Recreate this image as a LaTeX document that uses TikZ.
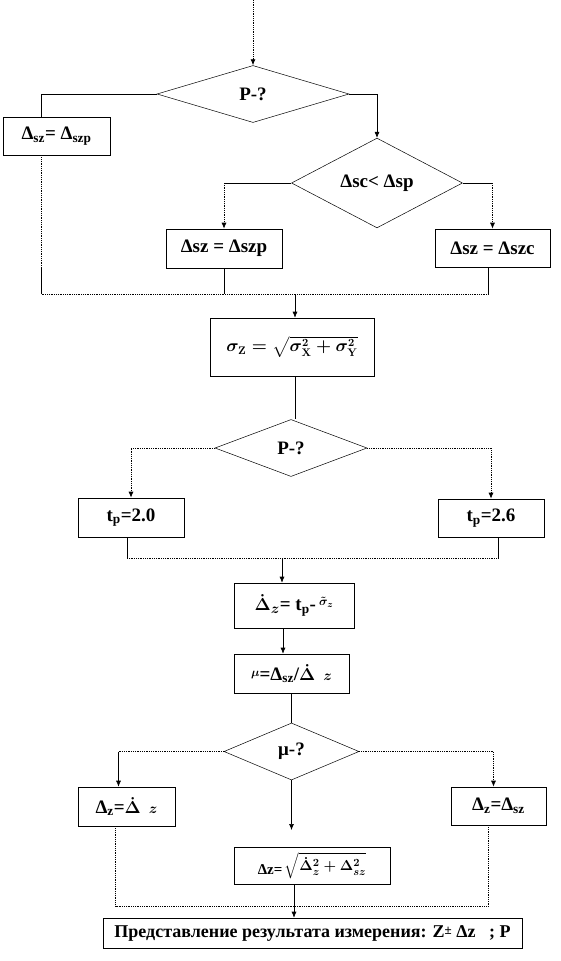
\documentclass[tikz,border=0pt]{standalone}
\usepackage{fontspec}
\usepackage{amsmath}
\setmainfont{Liberation Serif}
\usetikzlibrary{shapes.geometric,arrows.meta}
\tikzset{
  box/.style={draw,rectangle,inner sep=0pt,line width=0.6pt,font=\fontsize{19}{22}\selectfont\bfseries\boldmath},
  dia/.style={draw,diamond,inner sep=0pt,line width=0.5pt,font=\fontsize{19}{22}\selectfont\bfseries},
  ln/.style={line width=0.6pt},
  dl/.style={line width=0.8pt,densely dotted},
  arr/.style={-{Latex[length=6pt,width=5pt]}}
}
\begin{document}
\begin{tikzpicture}[x=1pt,y=-1pt]
\useasboundingbox (0,0) rectangle (561,961);
% nodes
\node[dia,minimum width=192pt,minimum height=57pt] (d1) at (253,94) {P-?};
\node[box,minimum width=107pt,minimum height=38pt] (b1) at (56.5,136) {Δ\textsubscript{sz}= Δ\textsubscript{szp}};
\node[dia,minimum width=171pt,minimum height=56pt] (d2) at (377,183) {Δsc< Δsp};
\node[box,minimum width=116pt,minimum height=39pt] (b2) at (224,248.5) {Δsz = Δszp};
\node[box,minimum width=115pt,minimum height=38pt] (b3) at (492.5,248) {Δsz = Δszc};
\node[box,minimum width=164pt,minimum height=58pt,font=\fontsize{16}{18}\selectfont\boldmath] (sig) at (292,347) {$\sigma_{\mathbf{Z}} = \sqrt{\sigma_{\mathbf{X}}^{\mathbf{2}} + \sigma_{\mathbf{Y}}^{\mathbf{2}}}$};
\node[dia,minimum width=152pt,minimum height=57pt] (d3) at (291,448) {P-?};
\node[box,minimum width=106pt,minimum height=39pt] (t1) at (131,517.5) {t\textsubscript{p}=2.0};
\node[box,minimum width=106pt,minimum height=38pt] (t2) at (491,518) {t\textsubscript{p}=2.6};
\node[box,minimum width=120pt,minimum height=45pt] (dd) at (294,605.5) {$\dot{\Delta}_{z}$= t\textsubscript{p}-\,\raisebox{5pt}{\fontsize{13}{14}\selectfont$\tilde{\sigma}_{z}$}};
\node[box,minimum width=115pt,minimum height=39pt] (mu) at (291.5,673.5) {\raisebox{4pt}{\fontsize{13}{14}\selectfont$\mu$}=Δ\textsubscript{sz}/$\dot{\Delta}$\ \,{\fontsize{15}{16}\selectfont$z$}};
\node[dia,minimum width=135pt,minimum height=57pt] (d4) at (291.5,751.5) {μ-?};
\node[box,minimum width=97pt,minimum height=39pt] (z1) at (126.5,806.5) {Δ\textsubscript{z}=$\dot{\Delta}$\ \,{\fontsize{15}{16}\selectfont$z$}};
\node[box,minimum width=95pt,minimum height=38pt] (z2) at (498.5,806) {Δ\textsubscript{z}=Δ\textsubscript{sz}};
\node[box,minimum width=156pt,minimum height=37pt,font=\fontsize{15}{18}\selectfont\bfseries\boldmath] (z3) at (312,865.5) {\raisebox{-4pt}{Δz=}\,$\sqrt{\dot{\Delta}_{z}^{2}+\Delta_{sz}^{2}}$};
\node[box,minimum width=419pt,minimum height=30pt,font=\fontsize{18}{20}\selectfont\bfseries] (fin) at (312.5,933) {Представление результата измерения: Z\raisebox{3pt}{\fontsize{13}{14}\selectfont ±} Δz \ \ ; P};
% coordinates
\coordinate (top) at (253,0);
\coordinate (bus1) at (0,294);
\coordinate (bus2) at (0,558);
\coordinate (bus3) at (0,906);
\coordinate (mid) at (294,830);
\coordinate (b1n) at ([xshift=-15pt]b1.north);
\coordinate (b1s) at ([xshift=-15pt]b1.south);
\coordinate (b3s) at ([xshift=-4pt]b3.south);
\coordinate (sgn) at ([xshift=3pt]sig.north);
\coordinate (sgs) at ([xshift=3pt]sig.south);
\coordinate (t1s) at ([xshift=-4pt]t1.south);
\coordinate (t2s) at ([xshift=7pt]t2.south);
\coordinate (ddn) at ([xshift=-12pt]dd.north);
\coordinate (dds) at ([xshift=-11pt]dd.south);
\coordinate (z1n) at ([xshift=-8pt]z1.north);
\coordinate (z2n) at ([xshift=-5pt]z2.north);
\coordinate (z1s) at ([xshift=-11pt]z1.south);
\coordinate (z2s) at ([xshift=-10pt]z2.south);
\coordinate (z3s) at ([xshift=-18pt]z3.south);
% connectors
\draw[dl,arr] (top) -- (d1.north);
\draw[ln] (d1.west) -| (b1n);
\draw[ln,arr] (d1.east) -| (d2.north);
\draw[dl] (b1s) -- (b1s |- 0,267);
\draw[ln] (b1s |- 0,267) -- (b1s |- bus1);
\draw[ln] (d2.west) -- (d2.west -| b2.north);
\draw[dl,arr] (d2.west -| b2.north) -- (b2.north);
\draw[ln] (d2.east) -- (d2.east -| b3.north);
\draw[dl,arr] (d2.east -| b3.north) -- (b3.north);
\draw[ln] (b2.south) -- (b2.south |- bus1);
\draw[ln] (b3s) -- (b3s |- bus1);
\draw[dl] (b1s |- bus1) -- (b3s |- bus1);
\draw[ln,arr] (sgn |- bus1) -- (sgn);
\draw[ln] (sgs) -- (sgs |- d3.north);
\draw[dl,arr] (d3.west) -| (t1.north);
\draw[dl,arr] (d3.east) -| (t2.north);
\draw[ln] (t1s) -- (t1s |- bus2);
\draw[ln] (t2s) -- (t2s |- bus2);
\draw[dl] (t1s |- bus2) -- (t2s |- bus2);
\draw[ln,arr] (ddn |- bus2) -- (ddn);
\draw[ln,arr] (dds) -- (dds |- mu.north);
\draw[ln] (mu.south) -- (d4.north);
\draw[dl] (d4.west) -- (d4.west -| z1n);
\draw[ln,arr] (d4.west -| z1n) -- (z1n);
\draw[dl,arr] (d4.east) -| (z2n);
\draw[ln,arr] (d4.south) -- (d4.south |- mid);
\draw[dl] (z1s) -- (z1s |- bus3) -- (z2s |- bus3) -- (z2s);
\draw[ln,arr] (z3s) -- (z3s |- fin.north);
\end{tikzpicture}
\end{document}
